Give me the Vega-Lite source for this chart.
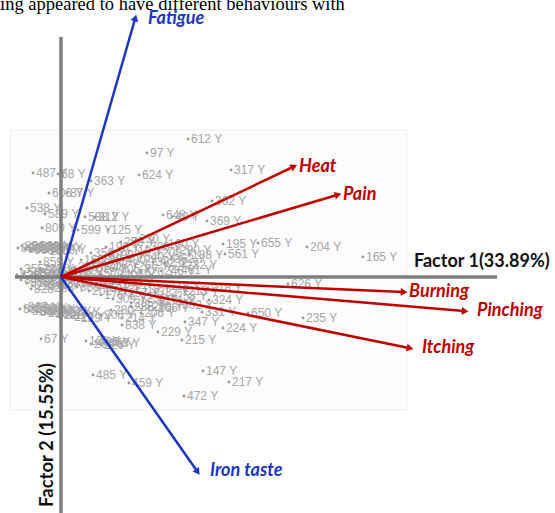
{
  "$schema": "https://vega.github.io/schema/vega-lite/v6.json",
  "width": 555,
  "height": 513,
  "autosize": {"type": "none"},
  "padding": 0,
  "background": "white",
  "config": {"view": {"stroke": null}},
  "datasets": {
    "frame": [{"x": -51, "y": 147, "x2": 346, "y2": -133}],
    "axes": [
      {"name": "Factor 1", "x": -46, "y": 0, "x2": 436, "y2": 0},
      {"name": "Factor 2", "x": 0, "y": 240, "x2": 0, "y2": -236}
    ],
    "pts": [
      {"x": 127, "y": 138, "id": "612 Y"}, {"x": 86, "y": 124, "id": "97 Y"}, {"x": 170, "y": 107, "id": "317 Y"},
      {"x": 78, "y": 102, "id": "624 Y"}, {"x": -28, "y": 104, "id": "487 Y"}, {"x": -3, "y": 103, "id": "68 Y"},
      {"x": 30, "y": 96, "id": "363 Y"}, {"x": -12, "y": 84, "id": "606 Y"}, {"x": 6, "y": 84, "id": "87 Y"},
      {"x": -34, "y": 69, "id": "538 Y"}, {"x": -16, "y": 63, "id": "589 Y"}, {"x": 24, "y": 60, "id": "588 Y"},
      {"x": 34, "y": 60, "id": "312 Y"}, {"x": 102, "y": 62, "id": "648 Y"}, {"x": 111, "y": 60, "id": "40 Y"},
      {"x": 151, "y": 76, "id": "362 Y"}, {"x": 146, "y": 56, "id": "369 Y"}, {"x": -19, "y": 49, "id": "809 Y"},
      {"x": 17, "y": 47, "id": "599 Y"}, {"x": 47, "y": 47, "id": "125 Y"}, {"x": 162, "y": 33, "id": "195 Y"},
      {"x": 197, "y": 34, "id": "655 Y"}, {"x": 246, "y": 30, "id": "204 Y"}, {"x": 164, "y": 23, "id": "561 Y"},
      {"x": 302, "y": 20, "id": "165 Y"}, {"x": 104, "y": 14, "id": "232 Y"}, {"x": 117, "y": 7, "id": "461 Y"},
      {"x": 227, "y": -7, "id": "626 Y"}, {"x": 147, "y": -11, "id": "218 Y"}, {"x": 148, "y": -23, "id": "324 Y"},
      {"x": 141, "y": -35, "id": "331 Y"}, {"x": 187, "y": -36, "id": "650 Y"}, {"x": 242, "y": -41, "id": "235 Y"},
      {"x": 94, "y": -31, "id": "206 Y"}, {"x": 124, "y": -45, "id": "347 Y"}, {"x": 162, "y": -51, "id": "224 Y"},
      {"x": 97, "y": -55, "id": "229 Y"}, {"x": 121, "y": -63, "id": "215 Y"}, {"x": 61, "y": -41, "id": "214 Y"},
      {"x": 61, "y": -48, "id": "838 Y"}, {"x": 17, "y": -41, "id": "129 Y"}, {"x": -20, "y": -62, "id": "67 Y"},
      {"x": 32, "y": -98, "id": "485 Y"}, {"x": 68, "y": -106, "id": "459 Y"}, {"x": 142, "y": -94, "id": "147 Y"},
      {"x": 168, "y": -105, "id": "217 Y"}, {"x": 123, "y": -119, "id": "472 Y"},
      {"x": -21, "y": 15, "id": "859 Y"}, {"x": -21, "y": 8, "id": "223 Y"},
      {"x": -43, "y": 29, "id": "889 Y"}, {"x": -39, "y": 31, "id": "856 Y"}, {"x": -36, "y": 28, "id": "808 Y"},
      {"x": -33, "y": 30, "id": "598 Y"}, {"x": -30, "y": 27, "id": "886 Y"}, {"x": -27, "y": 29, "id": "509 Y"},
      {"x": -24, "y": 31, "id": "688 Y"}, {"x": -21, "y": 28, "id": "866 Y"}, {"x": -18, "y": 30, "id": "380 Y"},
      {"x": -15, "y": 26, "id": "160 Y"}, {"x": -12, "y": 29, "id": "586 Y"}, {"x": -9, "y": 27, "id": "368 Y"},
      {"x": -44, "y": 2, "id": "822 Y"}, {"x": -40, "y": -3, "id": "844 Y"}, {"x": -37, "y": 4, "id": "503 Y"},
      {"x": -34, "y": -6, "id": "818 Y"}, {"x": -31, "y": 1, "id": "584 Y"}, {"x": -28, "y": -9, "id": "233 Y"},
      {"x": -25, "y": 3, "id": "612 Y"}, {"x": -22, "y": -4, "id": "881 Y"}, {"x": -19, "y": 6, "id": "529 Y"},
      {"x": -16, "y": -8, "id": "846 Y"}, {"x": -13, "y": 0, "id": "806 Y"}, {"x": -10, "y": -11, "id": "288 Y"},
      {"x": -7, "y": 5, "id": "586 Y"}, {"x": -4, "y": -6, "id": "380 Y"}, {"x": -40, "y": 8, "id": "355 Y"},
      {"x": -30, "y": -12, "id": "828 Y"},
      {"x": 8, "y": 4, "id": "126 Y"}, {"x": 14, "y": 10, "id": "386 Y"}, {"x": 20, "y": 6, "id": "502 Y"},
      {"x": 26, "y": 14, "id": "150 Y"}, {"x": 32, "y": 9, "id": "628 Y"}, {"x": 38, "y": 18, "id": "190 Y"},
      {"x": 44, "y": 12, "id": "258 Y"}, {"x": 50, "y": 22, "id": "199 Y"}, {"x": 56, "y": 8, "id": "305 Y"},
      {"x": 62, "y": 17, "id": "490 Y"}, {"x": 68, "y": 26, "id": "110 Y"}, {"x": 74, "y": 11, "id": "266 Y"},
      {"x": 80, "y": 20, "id": "540 Y"}, {"x": 86, "y": 30, "id": "300 Y"}, {"x": 92, "y": 15, "id": "382 Y"},
      {"x": 98, "y": 24, "id": "208 Y"}, {"x": 104, "y": 33, "id": "160 Y"}, {"x": 110, "y": 18, "id": "362 Y"},
      {"x": 116, "y": 27, "id": "290 Y"}, {"x": 122, "y": 12, "id": "232 Y"}, {"x": 128, "y": 22, "id": "188 Y"},
      {"x": 40, "y": 3, "id": "520 Y"}, {"x": 60, "y": 2, "id": "406 Y"}, {"x": 80, "y": 5, "id": "620 Y"},
      {"x": 100, "y": 6, "id": "246 Y"}, {"x": 20, "y": 17, "id": "160 Y"}, {"x": 30, "y": 24, "id": "356 Y"},
      {"x": 45, "y": 30, "id": "190 Y"}, {"x": 60, "y": 35, "id": "259 Y"}, {"x": 75, "y": 38, "id": "230 Y"},
      {"x": 10, "y": -5, "id": "121 Y"}, {"x": 16, "y": -10, "id": "388 Y"}, {"x": 22, "y": -4, "id": "516 Y"},
      {"x": 28, "y": -14, "id": "202 Y"}, {"x": 34, "y": -8, "id": "256 Y"}, {"x": 40, "y": -18, "id": "176 Y"},
      {"x": 46, "y": -11, "id": "512 Y"}, {"x": 52, "y": -22, "id": "309 Y"}, {"x": 58, "y": -7, "id": "140 Y"},
      {"x": 64, "y": -16, "id": "257 Y"}, {"x": 70, "y": -26, "id": "285 Y"}, {"x": 76, "y": -12, "id": "318 Y"},
      {"x": 82, "y": -21, "id": "236 Y"}, {"x": 88, "y": -30, "id": "208 Y"}, {"x": 94, "y": -15, "id": "322 Y"},
      {"x": 100, "y": -24, "id": "271 Y"}, {"x": 106, "y": -9, "id": "118 Y"}, {"x": 112, "y": -19, "id": "258 Y"},
      {"x": 118, "y": -28, "id": "302 Y"}, {"x": 124, "y": -14, "id": "213 Y"},
      {"x": -41, "y": -32, "id": "888 Y"}, {"x": -36, "y": -30, "id": "865 Y"}, {"x": -32, "y": -34, "id": "826 Y"},
      {"x": -28, "y": -31, "id": "588 Y"}, {"x": -24, "y": -35, "id": "846 Y"}, {"x": -20, "y": -32, "id": "585 Y"},
      {"x": -16, "y": -36, "id": "218 Y"}, {"x": -12, "y": -33, "id": "288 Y"}, {"x": -8, "y": -37, "id": "286 Y"},
      {"x": -4, "y": -34, "id": "520 Y"}, {"x": 0, "y": -38, "id": "225 Y"}, {"x": 5, "y": -35, "id": "521 Y"},
      {"x": 10, "y": -40, "id": "229 Y"}, {"x": 40, "y": -38, "id": "206 Y"}, {"x": 50, "y": -33, "id": "280 Y"},
      {"x": 70, "y": -30, "id": "285 Y"}, {"x": 80, "y": -36, "id": "206 Y"},
      {"x": 25, "y": -64, "id": "128 Y"}, {"x": 30, "y": -67, "id": "256 Y"}, {"x": 35, "y": -65, "id": "426 Y"},
      {"x": 40, "y": -68, "id": "226 Y"}, {"x": 45, "y": -66, "id": "458 Y"}
    ],
    "arrows": [
      {"var": "Fatigue", "x": 74, "y": 258, "grp": "blue", "near": "no"},
      {"var": "Heat", "x": 232, "y": 110, "grp": "red", "near": "yes"},
      {"var": "Pain", "x": 276, "y": 82, "grp": "red", "near": "yes"},
      {"var": "Burning", "x": 342, "y": -15, "grp": "red", "near": "yes"},
      {"var": "Pinching", "x": 403, "y": -34, "grp": "red", "near": "no"},
      {"var": "Itching", "x": 348, "y": -71, "grp": "red", "near": "no"},
      {"var": "Iron taste", "x": 136, "y": -194, "grp": "blue", "near": "no"}
    ],
    "notes": [
      {"text": "Factor 1(33.89%)", "x": 353, "y": 15}
    ],
    "notes2": [
      {"text": "Factor 2 (15.55%)", "x": -14, "y": -158}
    ],
    "top": [
      {"text": "ing appeared to have different behaviours with", "x": -61, "y": 267}
    ]
  },
  "encoding": {
    "x": {"field": "x", "type": "quantitative", "scale": {"domain": [-61, 494], "nice": false, "zero": false}, "axis": null},
    "y": {"field": "y", "type": "quantitative", "scale": {"domain": [-236, 277], "nice": false, "zero": false}, "axis": null}
  },
  "layer": [
    {
      "data": {"name": "frame"},
      "mark": {"type": "rect", "fill": "#fcfcfc", "stroke": "#eeeeee", "strokeWidth": 1},
      "encoding": {"x2": {"field": "x2"}, "y2": {"field": "y2"}}
    },
    {
      "data": {"name": "pts"},
      "mark": {"type": "point", "filled": true, "size": 8, "color": "#9a9a9a", "opacity": 1},
      "encoding": {}
    },
    {
      "data": {"name": "pts"},
      "mark": {"type": "text", "align": "left", "baseline": "middle", "dx": 3, "fontSize": 12, "font": "Liberation Sans", "color": "#a6a6a6"},
      "encoding": {"text": {"field": "id"}}
    },
    {
      "data": {"name": "axes"},
      "mark": {"type": "rule", "color": "#7f7f7f", "strokeWidth": 3.5, "strokeCap": "butt"},
      "encoding": {"x2": {"field": "x2"}, "y2": {"field": "y2"}}
    },
    {
      "data": {"name": "arrows"},
      "mark": {"type": "rule", "strokeWidth": 2.5, "strokeCap": "butt"},
      "encoding": {
        "x": {"datum": 0},
        "y": {"datum": 0},
        "x2": {"field": "x"},
        "y2": {"field": "y"},
        "color": {"field": "grp", "type": "nominal", "scale": {"domain": ["red", "blue"], "range": ["#c00000", "#1c35c4"]}, "legend": null}
      }
    },
    {
      "data": {"name": "arrows"},
      "transform": [{"calculate": "atan2(datum.x, datum.y) * 180 / PI", "as": "ang"}],
      "mark": {"type": "point", "shape": "triangle", "filled": true, "size": 60, "opacity": 1},
      "encoding": {
        "angle": {"field": "ang", "type": "quantitative", "scale": null},
        "color": {"field": "grp", "type": "nominal", "scale": {"domain": ["red", "blue"], "range": ["#c00000", "#1c35c4"]}, "legend": null}
      }
    },
    {
      "data": {"name": "arrows"},
      "transform": [{"filter": "datum.near == 'yes'"}],
      "mark": {"type": "text", "align": "left", "baseline": "middle", "dx": 6, "fontSize": 18, "font": "Lato", "fontWeight": "bold", "fontStyle": "italic"},
      "encoding": {
        "text": {"field": "var"},
        "color": {"field": "grp", "type": "nominal", "scale": {"domain": ["red", "blue"], "range": ["#c00000", "#1c35c4"]}, "legend": null}
      }
    },
    {
      "data": {"name": "arrows"},
      "transform": [{"filter": "datum.near == 'no'"}],
      "mark": {"type": "text", "align": "left", "baseline": "middle", "dx": 13, "fontSize": 18, "font": "Lato", "fontWeight": "bold", "fontStyle": "italic"},
      "encoding": {
        "text": {"field": "var"},
        "color": {"field": "grp", "type": "nominal", "scale": {"domain": ["red", "blue"], "range": ["#c00000", "#1c35c4"]}, "legend": null}
      }
    },
    {
      "data": {"name": "notes"},
      "mark": {"type": "text", "align": "left", "baseline": "middle", "fontSize": 18, "font": "Lato", "fontWeight": "bold", "color": "#111111"},
      "encoding": {"text": {"field": "text"}}
    },
    {
      "data": {"name": "notes2"},
      "mark": {"type": "text", "align": "center", "baseline": "middle", "angle": 270, "fontSize": 18.5, "font": "Lato", "fontWeight": "bold", "color": "#111111"},
      "encoding": {"text": {"field": "text"}}
    },
    {
      "data": {"name": "top"},
      "mark": {"type": "text", "align": "left", "baseline": "alphabetic", "fontSize": 18.5, "font": "Liberation Serif", "color": "#000000"},
      "encoding": {"text": {"field": "text"}}
    }
  ]
}
